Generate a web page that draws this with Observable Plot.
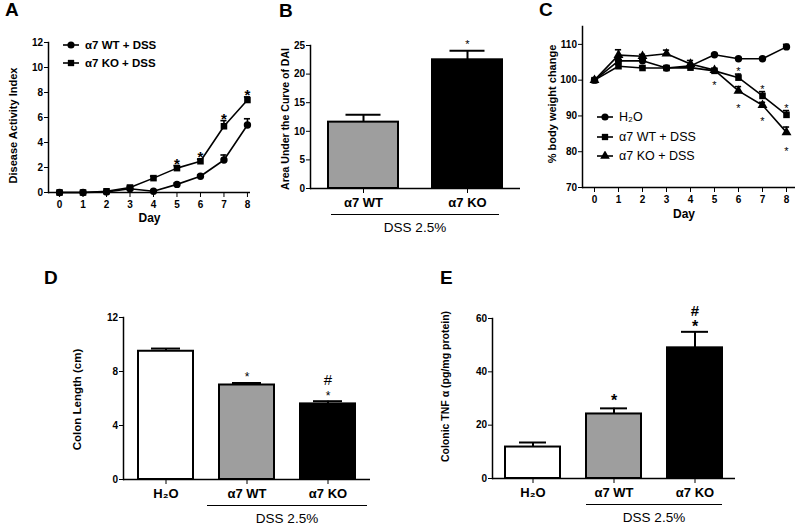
<!DOCTYPE html>
<html><head><meta charset="utf-8">
<script src="https://cdn.jsdelivr.net/npm/d3@7"></script>
<script src="https://cdn.jsdelivr.net/npm/@observablehq/plot@0.6"></script>
<style>
body{margin:0;background:#fff;}
#fig{position:relative;width:800px;height:531px;overflow:hidden;font-family:"Liberation Sans",Arial,sans-serif;color:#000;}
.panel{position:absolute;}
.letter{position:absolute;font-weight:bold;font-size:19px;line-height:20px;}
.brline{position:absolute;height:0;border-top:1.6px solid #000;}
.brtext{position:absolute;font-size:13.5px;line-height:14px;text-align:center;white-space:nowrap;transform:translate(-50%,-50%);}
.leg{position:absolute;display:flex;align-items:center;white-space:nowrap;transform:translateY(-50%);}
.leg svg{margin-right:6px;}
</style></head><body><div id="fig"></div>
<script>
// ---------- data ----------
// Panel A: Disease Activity Index
const days = [0,1,2,3,4,5,6,7,8];
const daiWT    = [0,0,0.05,0.3,0.1,0.65,1.3,2.6,5.4];
const daiWTerr = [0,0,0,0,0,0.1,0.1,0.4,0.5];
const daiKO    = [0,0,0.1,0.4,1.15,1.95,2.5,5.3,7.4];
const daiKOerr = [0,0,0,0.1,0.15,0.2,0.15,0.45,0.25];
const daiStarDays = [5,6,7,8];
const daiTicks = [0,2,4,6,8,10,12];

// Panel B: AUC of DAI
const aucCats = ["α7 WT","α7 KO"];
const aucVals = [11.6, 22.5];
const aucErr  = [1.3, 1.6];
const aucTicks = [0,5,10,15,20,25];

// Panel C: % body weight change
const bwH2O    = [100,105.4,105.4,103.4,104,107.1,106,106,109.3];
const bwH2Oerr = [0,0,0,0,0,0.3,0.3,0.3,0.7];
const bwWT     = [100,103.9,103.4,103.4,103.5,102.6,100.7,95.6,90.3];
const bwWTerr  = [0,0.5,0.5,0.5,0.5,0.5,1.0,1.2,1.2];
const bwKO     = [100,107,106.7,107.4,104.5,102.8,97,93,85.4];
const bwKOerr  = [0,1.5,0.5,1.0,1.0,0.5,1.2,0.8,1.5];
const bwStarsWT = [6,7,8];
const bwStarsKO = [5,6,7,8];
const bwTicks = [70,80,90,100,110];

// Panel D: colon length
const colonCats = ["H₂O","α7 WT","α7 KO"];
const colonVals = [9.5, 7.0, 5.6];
const colonErr  = [0.2, 0.15, 0.2];
const colonTicks = [0,4,8,12];

// Panel E: colonic TNF-alpha
const tnfCats = ["H₂O","α7 WT","α7 KO"];
const tnfVals = [11.8, 24.2, 49.0];
const tnfErr  = [1.7, 2.1, 6.0];
const tnfTicks = [0,20,40,60];

const barFills = ["#ffffff","#9e9e9e","#000000"];
// ---------------------------

const fig = document.getElementById("fig");
const FONT = "'Liberation Sans', Arial, sans-serif";
const baseStyle = {fontFamily: FONT, fontSize: "10px", fontWeight: "bold", color: "black", background: "transparent", overflow: "visible"};

function place(el, left, top){
  const w = document.createElement("div");
  w.className = "panel"; w.style.left = left+"px"; w.style.top = top+"px";
  w.appendChild(el); fig.appendChild(w); return w;
}
function letter(t, x, y){
  const d = document.createElement("div"); d.className="letter"; d.textContent=t;
  d.style.left=x+"px"; d.style.top=y+"px"; fig.appendChild(d);
}
function symbolPath(type, size){
  const map = {circle: d3.symbolCircle, square: d3.symbolSquare, triangle: d3.symbolTriangle};
  return d3.symbol(map[type], size)();
}
function legend(items, x, y0, step, fs, weight){
  items.forEach((it,i)=>{
    const d = document.createElement("div"); d.className="leg";
    d.style.left = x+"px"; d.style.top = (y0+i*step)+"px";
    d.style.fontSize = fs+"px"; d.style.fontWeight = weight;
    d.innerHTML = `<svg width="16" height="10" viewBox="-8 -5 16 10"><line x1="-8" x2="8" y1="0" y2="0" stroke="#000" stroke-width="1.6"/><path d="${symbolPath(it.sym, 40)}" fill="#000"/></svg><span>${it.label}</span>`;
    fig.appendChild(d);
  });
}
function bracket(plot, left, top, cats, ext, off, textOff){
  const xs = plot.scale("x"), ys = plot.scale("y");
  const x1 = left + xs.apply(cats[0]) - ext;
  const x2 = left + xs.apply(cats[cats.length-1]) + xs.bandwidth + ext;
  const y = top + ys.apply(ys.domain[0]) + off;
  const l = document.createElement("div"); l.className="brline";
  l.style.left=x1+"px"; l.style.top=y+"px"; l.style.width=(x2-x1)+"px"; fig.appendChild(l);
  const t = document.createElement("div"); t.className="brtext"; t.textContent="DSS 2.5%";
  t.style.left=((x1+x2)/2)+"px"; t.style.top=(y+textOff)+"px"; fig.appendChild(t);
}
function yLabel(text, dx, dy, fs){
  return Plot.text([text], {text: d=>d, frameAnchor: "left", rotate: -90, dx, dy, textAnchor: "middle", lineAnchor: "middle", fontSize: fs, fontWeight: "bold", fill: "black"});
}

// ---------- Panel A ----------
const dataA = days.flatMap((d,i)=>[
  {series:"WT", day:d, value:daiWT[i], err:daiWTerr[i]},
  {series:"KO", day:d, value:daiKO[i], err:daiKOerr[i]}
]);
const errA = dataA.filter(d=>d.err>0);
const starsA = dataA.filter(d=>d.series==="KO" && daiStarDays.includes(d.day));
const plotA = Plot.plot({
  width:270, height:260, marginLeft:48, marginTop:42, marginBottom:68, marginRight:20,
  style: baseStyle,
  x:{domain:[-0.47,8.13]}, y:{domain:[0,12]},
  symbol:{domain:["WT","KO"], range:["circle","square"]},
  marks:[
    Plot.axisY({ticks:daiTicks, tickSize:4, tickPadding:1.5, label:null}),
    Plot.axisX({ticks:days, tickSize:5, tickPadding:3, label:null}),
    Plot.ruleY([0], {strokeWidth:1.5}),
    Plot.frame({anchor:"left", strokeWidth:1.5}),
    Plot.line(dataA, {x:"day", y:"value", z:"series", stroke:"black", strokeWidth:1.6}),
    Plot.ruleX(errA, {x:"day", y1:"value", y2:d=>d.value+d.err, strokeWidth:1.6}),
    Plot.ruleY(errA, {x1:d=>d.day-0.13, x2:d=>d.day+0.13, y:d=>d.value+d.err, strokeWidth:1.6}),
    Plot.dot(dataA, {x:"day", y:"value", symbol:"series", fill:"black", r:3.7}),
    Plot.text(starsA, {x:"day", y:d=>d.value+d.err, text:()=>"*", lineAnchor:"bottom", dy:3, fontSize:15, fontWeight:"bold"}),
    yLabel("Disease Activity Index", -35, 8, 11),
    Plot.text(["Day"], {text:d=>d, frameAnchor:"bottom", dy:26, lineAnchor:"middle", fontSize:12, fontWeight:"bold"})
  ]
});
place(plotA, 0, 0);
legend([{sym:"circle", label:"α7 WT + DSS"},{sym:"square", label:"α7 KO + DSS"}], 63, 45, 18, 11.5, "bold");

// ---------- bar panel helper ----------
function barPanel(o){
  const data = o.cats.map((c,i)=>({cat:c, value:o.values[i], err:o.errs[i], fill:o.fills[i]}));
  const topOf = c => { const d = data.find(e=>e.cat===c); return d.value + d.err; };
  const starMarks = o.stars.map(s => Plot.text([s], {x:"cat", y:d=>topOf(d.cat), text:"mark", lineAnchor:"bottom", dy:s.dy, fontSize:s.fs, fontWeight:s.weight}));
  const plot = Plot.plot({
    width:o.width, height:o.height, marginLeft:o.mL, marginTop:o.mT, marginBottom:o.mB, marginRight:o.mR,
    style: baseStyle,
    x:{domain:o.cats, paddingInner:o.pI, paddingOuter:o.pO},
    y:{domain:o.yDomain},
    color:{type:"identity"},
    marks:[
      Plot.barY(data, {x:"cat", y:"value", fill:"fill", stroke:"black", strokeWidth:2}),
      Plot.ruleX(data, {x:"cat", y1:"value", y2:d=>d.value+d.err, strokeWidth:2}),
      Plot.tickY(data, {x:"cat", y:d=>d.value+d.err, insetLeft:o.capInset, insetRight:o.capInset, strokeWidth:2}),
      Plot.ruleY([o.yDomain[0]], {strokeWidth:1.5}),
      Plot.frame({anchor:"left", strokeWidth:1.5}),
      Plot.axisY({ticks:o.yTicks, tickSize:4, tickPadding:1.5, label:null}),
      Plot.axisX({tickSize:5, tickPadding:4, label:null, fontSize:13}),
      ...starMarks,
      yLabel(o.yLabel, o.labelDx, o.labelDy, o.labelFs)
    ]
  });
  place(plot, o.left, o.top);
  bracket(plot, o.left, o.top, o.bracketCats, o.bracketExt, 26, 14);
  return plot;
}

// ---------- Panel B ----------
barPanel({
  cats:aucCats, values:aucVals, errs:aucErr, fills:[barFills[1], barFills[2]],
  yDomain:[0,25], yTicks:aucTicks, yLabel:"Area Under the Curve of DAI",
  width:272, height:260, left:258, top:0, mL:52, mT:45, mB:72, mR:10,
  pI:0.33, pO:0.17, capInset:17.5, labelDx:-25, labelDy:2, labelFs:10.5,
  stars:[{cat:"α7 KO", mark:"*", dy:-3, fs:11, weight:"normal"}],
  bracketCats:aucCats, bracketExt:-3
});

// ---------- Panel C ----------
const dataC = days.flatMap((d,i)=>[
  {series:"H2O", day:d, value:bwH2O[i], err:bwH2Oerr[i]},
  {series:"WT", day:d, value:bwWT[i], err:bwWTerr[i]},
  {series:"KO", day:d, value:bwKO[i], err:bwKOerr[i]}
]);
const errC = dataC.filter(d=>d.err>0);
const starsCup = dataC.filter(d=>d.series==="WT" && bwStarsWT.includes(d.day));
const starsCdn = dataC.filter(d=>d.series==="KO" && bwStarsKO.includes(d.day));
const plotC = Plot.plot({
  width:270, height:260, marginLeft:52, marginTop:26, marginBottom:73, marginRight:5,
  style: baseStyle,
  x:{domain:[-0.5,8.375]}, y:{domain:[70,115]},
  symbol:{domain:["H2O","WT","KO"], range:["circle","square","triangle"]},
  marks:[
    Plot.axisY({ticks:bwTicks, tickSize:4, tickPadding:1.5, label:null}),
    Plot.axisX({ticks:days, tickSize:5, tickPadding:3, label:null}),
    Plot.ruleY([70], {strokeWidth:1.5}),
    Plot.frame({anchor:"left", strokeWidth:1.5}),
    Plot.line(dataC, {x:"day", y:"value", z:"series", stroke:"black", strokeWidth:1.6}),
    Plot.ruleX(errC, {x:"day", y1:"value", y2:d=>d.value+d.err, strokeWidth:1.6}),
    Plot.ruleY(errC, {x1:d=>d.day-0.13, x2:d=>d.day+0.13, y:d=>d.value+d.err, strokeWidth:1.6}),
    Plot.dot(dataC, {x:"day", y:"value", symbol:"series", fill:"black", r:3.7}),
    Plot.text(starsCup, {x:"day", y:d=>d.value+d.err, text:()=>"*", lineAnchor:"bottom", dy:1, fontSize:11, fontWeight:"normal"}),
    Plot.text(starsCdn, {x:"day", y:d=>d.value-d.err, text:()=>"*", lineAnchor:"bottom", dy:17, fontSize:11, fontWeight:"normal"}),
    yLabel("% body weight change", -30, -3, 11),
    Plot.text(["Day"], {text:d=>d, frameAnchor:"bottom", dx:-5, dy:27, lineAnchor:"middle", fontSize:12, fontWeight:"bold"})
  ]
});
place(plotC, 530, 0);
legend([{sym:"circle", label:"H₂O"},{sym:"square", label:"α7 WT + DSS"},{sym:"triangle", label:"α7 KO + DSS"}], 597, 117, 19.5, 12.5, "normal");

// ---------- Panel D ----------
barPanel({
  cats:colonCats, values:colonVals, errs:colonErr, fills:barFills,
  yDomain:[0,12], yTicks:colonTicks, yLabel:"Colon Length (cm)",
  width:400, height:261, left:0, top:270, mL:123, mT:47, mB:52, mR:30,
  pI:0.32, pO:0.18, capInset:13, labelDx:-46, labelDy:1, labelFs:11.5,
  stars:[
    {cat:"α7 WT", mark:"*", dy:-2, fs:12, weight:"normal"},
    {cat:"α7 KO", mark:"*", dy:-1, fs:12, weight:"normal"},
    {cat:"α7 KO", mark:"#", dy:-16, fs:15, weight:"normal"}
  ],
  bracketCats:["α7 WT","α7 KO"], bracketExt:12
});

// ---------- Panel E ----------
barPanel({
  cats:tnfCats, values:tnfVals, errs:tnfErr, fills:barFills,
  yDomain:[0,60], yTicks:tnfTicks, yLabel:"Colonic TNF α (pg/mg protein)",
  width:400, height:261, left:400, top:270, mL:92, mT:48, mB:53, mR:65,
  pI:0.32, pO:0.16, capInset:14, labelDx:-47, labelDy:-12, labelFs:10.5,
  stars:[
    {cat:"α7 WT", mark:"*", dy:-2, fs:16, weight:"bold"},
    {cat:"α7 KO", mark:"*", dy:0, fs:16, weight:"bold"},
    {cat:"α7 KO", mark:"#", dy:-16, fs:15, weight:"bold"}
  ],
  bracketCats:["α7 WT","α7 KO"], bracketExt:0
});

letter("A", 5, 0);
letter("B", 279, 1);
letter("C", 539, 0);
letter("D", 44, 268);
letter("E", 440, 268);
</script></body></html>
